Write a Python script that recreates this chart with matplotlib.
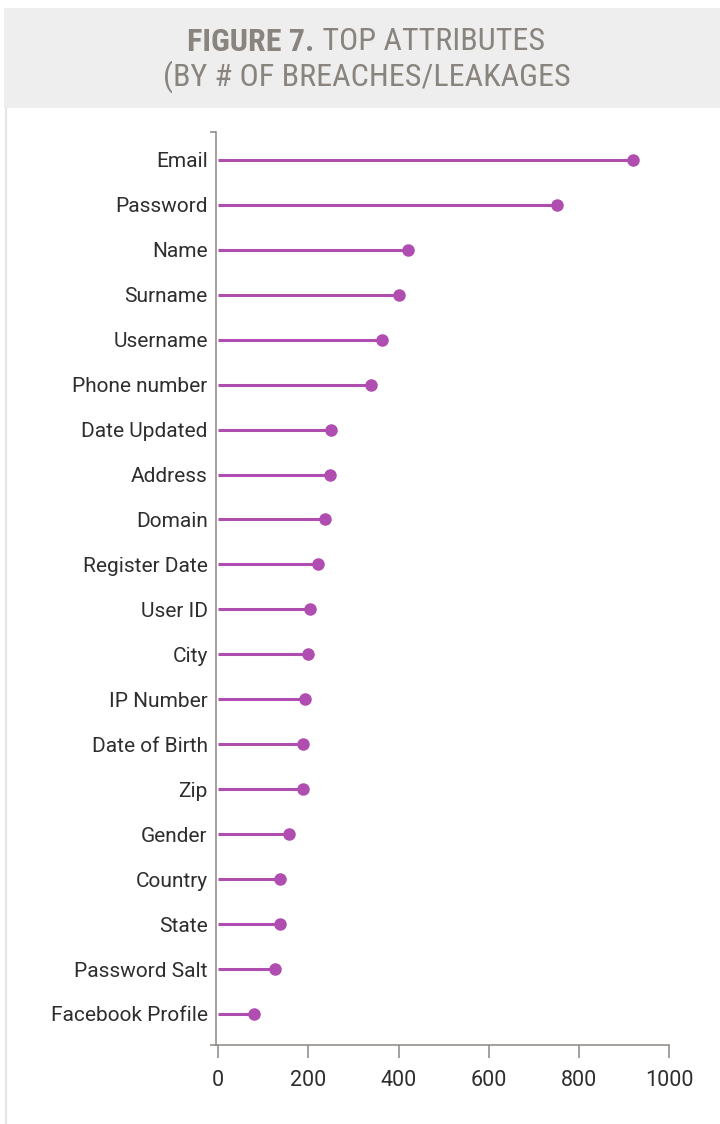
import matplotlib
matplotlib.use("Agg")
import matplotlib.pyplot as plt
from matplotlib.patches import Rectangle
from matplotlib.lines import Line2D

# Attributes found in breach / leakage records, top to bottom
attributes = [
    "Email", "Password", "Name", "Surname", "Username", "Phone number",
    "Date Updated", "Address", "Domain", "Register Date", "User ID", "City",
    "IP Number", "Date of Birth", "Zip", "Gender", "Country", "State",
    "Password Salt", "Facebook Profile",
]
breach_counts = [
    920, 751, 420, 400, 364, 338,
    251, 247, 236, 222, 204, 198,
    193, 189, 188, 158, 138, 136,
    127, 80,
]
x_ticks = [0, 200, 400, 600, 800, 1000]

LINE_COLOR = "#b04db0"
AXIS_COLOR = "#8c8782"
TEXT_COLOR = "#2e2e2e"
TITLE_COLOR = "#8a847e"
HEADER_BG = "#eeeeee"

W, H = 720, 1124
fig = plt.figure(figsize=(W / 100, H / 100), dpi=100)
fig.patch.set_facecolor("white")

def px(x, y):
    """Pixel position (from top-left) to figure fraction."""
    return x / W, 1 - y / H

# Header band and thin left rule
fig.add_artist(Rectangle(px(4, 108), (W - 4) / W, 100 / H,
                         transform=fig.transFigure, facecolor=HEADER_BG,
                         edgecolor="none", zorder=0))
fig.add_artist(Line2D([5.5 / W, 5.5 / W], [1 - 108 / H, 0],
                      transform=fig.transFigure, color="#e6e6e6", lw=1.6))

title_family = ["Roboto Condensed", "Noto Sans", "DejaVu Sans"]
title_kw = dict(color=TITLE_COLOR, family=title_family, fontstretch="condensed",
                fontsize=23, va="center")

renderer = fig.canvas.get_renderer()

# Title line 2, then scale both lines so line 2 spans the intended width
line2 = fig.text(*px(367, 77), "(BY # OF BREACHES/LEAKAGES", ha="center",
                 **title_kw)
w2 = line2.get_window_extent(renderer).width
scale = min(1.0, 409 / w2)
title_kw["fontsize"] = 23 * scale
line2.set_fontsize(23 * scale)

# Title line 1: bold lead-in followed by regular text, centred as a unit
t_bold = fig.text(0, 0, "FIGURE 7.", fontweight="bold", **title_kw)
t_reg = fig.text(0, 0, " TOP ATTRIBUTES", **title_kw)
wb = t_bold.get_window_extent(renderer).width
wr = t_reg.get_window_extent(renderer).width
cx = 366
x0 = cx - (wb + wr) / 2
t_bold.set_position(px(x0, 42))
t_reg.set_position(px(x0 + wb, 42))

# Plot area
x_left, x_right = 216, 669
y_top, y_bottom = 132, 1045
ax = fig.add_axes([x_left / W, 1 - y_bottom / H,
                   (x_right - x_left) / W, (y_bottom - y_top) / H])

n = len(attributes)
ypos = list(range(n - 1, -1, -1))
ax.hlines(ypos, 0, breach_counts, color=LINE_COLOR, lw=2.2, zorder=2)
ax.plot(breach_counts, ypos, "o", color=LINE_COLOR, ms=8, zorder=3,
        clip_on=False)

ax.set_xlim(-5, 1000)
ax.set_ylim(-0.69, n - 1 + 0.62)

ax.set_yticks(ypos)
ax.set_yticklabels(attributes)
ax.set_xticks(x_ticks)
ax.set_xticklabels([str(t) for t in x_ticks])

label_family = ["Roboto", "DejaVu Sans"]
for lab in ax.get_yticklabels():
    lab.set_family(label_family)
    lab.set_fontsize(15)
    lab.set_color(TEXT_COLOR)
    lab.set_verticalalignment("center_baseline")
for lab in ax.get_xticklabels():
    lab.set_family(label_family)
    lab.set_fontsize(15.5)
    lab.set_color(TEXT_COLOR)

ax.tick_params(axis="y", length=0, pad=6)
ax.tick_params(axis="x", length=9, width=1.1, color=AXIS_COLOR, pad=9)

# Small end caps on the vertical axis
ax.set_yticks([ax.get_ylim()[0], ax.get_ylim()[1]], minor=True)
ax.tick_params(axis="y", which="minor", length=4, width=1.1, color=AXIS_COLOR)

for side in ("top", "right"):
    ax.spines[side].set_visible(False)
for side in ("left", "bottom"):
    ax.spines[side].set_color(AXIS_COLOR)
    ax.spines[side].set_linewidth(1.1)
ax.set_facecolor("none")

fig.savefig("out.png", dpi=100, facecolor="white")
